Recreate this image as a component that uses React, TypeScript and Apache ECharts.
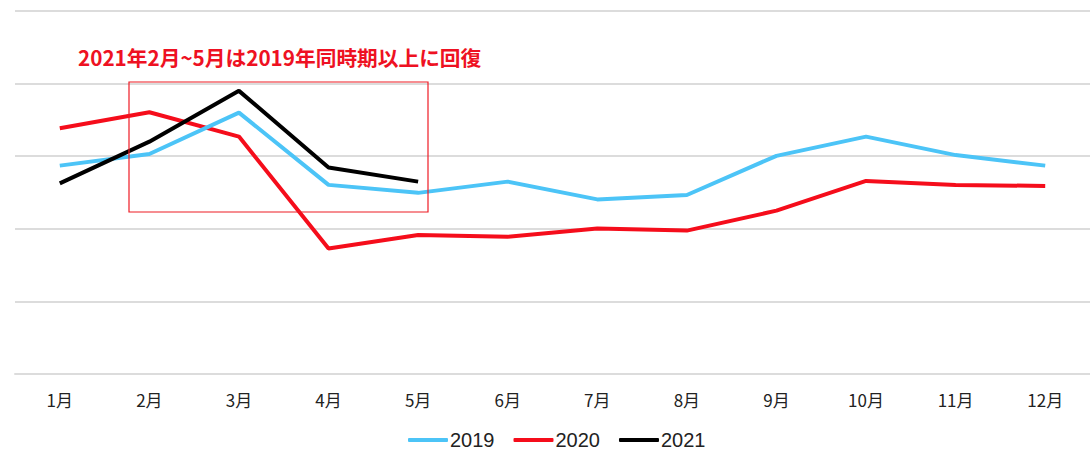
import React, { useEffect, useRef } from "react";
import * as echarts from "echarts";

const months = ["1月", "2月", "3月", "4月", "5月", "6月", "7月", "8月", "9月", "10月", "11月", "12月"];
const seriesNames = ["2019", "2020", "2021"];
const values2019 = [57.4, 60.6, 72.0, 52.1, 49.9, 53.0, 48.1, 49.3, 60.1, 65.4, 60.3, 57.4];
const values2020 = [67.7, 72.1, 65.4, 34.6, 38.3, 37.8, 40.1, 39.5, 45.0, 53.2, 52.1, 51.8];
const values2021 = [52.5, 64.0, 78.0, 56.9, 53.0];
const annotation = "2021年2月~5月は2019年同時期以上に回復";

const FONT = '"Noto Sans CJK JP", "Noto Sans", sans-serif';
const LEGEND_FONT = '"Liberation Sans", Arial, sans-serif';

export default function App() {
  const ref = useRef<HTMLDivElement>(null);
  useEffect(() => {
    if (!ref.current) return;
    const chart = echarts.init(ref.current, undefined, { renderer: "svg" });
    const colors = ["#4cc4f7", "#f50d1b", "#000000"];
    const data = [values2019, values2020, values2021];
    chart.setOption({
      animation: false,
      textStyle: { fontFamily: FONT },
      grid: { left: 15, right: -5, top: 11, bottom: 78 },
      xAxis: {
        type: "category",
        data: months,
        boundaryGap: true,
        axisLine: { show: true, lineStyle: { color: "#dcdcdc", width: 2 } },
        axisTick: { show: false },
        axisLabel: { color: "#222", fontSize: 17, margin: 17, fontFamily: FONT },
      },
      yAxis: {
        type: "value",
        min: 0,
        max: 100,
        interval: 20,
        axisLabel: { show: false },
        axisLine: { show: false },
        axisTick: { show: false },
        splitLine: { lineStyle: { color: "#dcdcdc", width: 2 } },
      },
      legend: {
        left: 408,
        top: 430,
        padding: 0,
        itemWidth: 40,
        itemHeight: 4,
        itemGap: 19,
        icon: "roundRect",
        textStyle: { fontSize: 20, lineHeight: 20, color: "#222", fontFamily: LEGEND_FONT, padding: [0, 0, 0, -3] },
        data: seriesNames,
      },
      series: seriesNames.map((name, i) => ({
        name,
        type: "line",
        data: data[i],
        symbol: "none",
        color: colors[i],
        lineStyle: { color: colors[i], width: 4 },
        z: i === 0 ? 3 : i === 1 ? 2 : 4,
      })),
      graphic: [
        {
          type: "rect",
          shape: { x: 129, y: 82, width: 299, height: 130 },
          style: { fill: "none", stroke: "#ee1c25", lineWidth: 1.2 },
          z: 10,
        },
        {
          type: "text",
          left: 78,
          top: 47,
          style: {
            text: annotation,
            fill: "#ee1122",
            font: `bold 20.7px ${FONT}`,
          },
          z: 10,
        },
      ],
    });
    return () => chart.dispose();
  }, []);
  return (
    <div
      ref={ref}
      style={{ position: "fixed", left: 0, top: 0, width: 1090, height: 452, background: "#fff" }}
    />
  );
}
